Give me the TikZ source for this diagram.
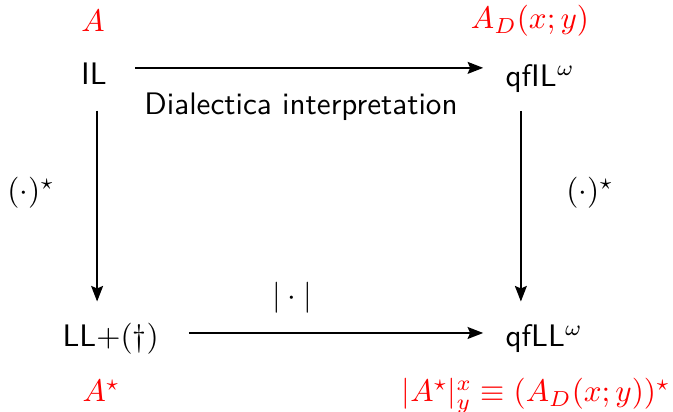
\documentclass[tikz,border=0pt]{standalone}
\usepackage{amsmath}
\usepackage{xcolor}
\usepackage{tikz}
\usetikzlibrary{arrows.meta}
\tikzset{>={Stealth[length=5pt,width=3.8pt,inset=0.8pt]}}

\begin{document}
\begin{tikzpicture}[x=0.3213pt,y=-0.3213pt,
  sys/.style={font=\sffamily,inner sep=0pt,text height=7pt,text depth=2pt},
  form/.style={text=red,inner sep=0pt},
  lab/.style={inner sep=0pt},
  map/.style={->,line width=0.7pt}]
\useasboundingbox (0,0) rectangle (673,412);

% ===== systems =====
\node[sys,anchor=base] (il) at (94,85) {IL};
\node[sys,anchor=base west] (qfil) at (505,87) {qfIL$^\omega$};
\node[sys,anchor=base west] (ll) at (62,347) {LL$+(\dagger)$};
\node[sys,anchor=base west] (qfll) at (505,347) {qfLL$^\omega$};

% ===== formulas =====
\node[form,anchor=base] (fA) at (93,32) {$A$};
\node[form,anchor=base] (fAD) at (530,29) {$A_D(x;y)$};
\node[form,anchor=base west] (fAs) at (82,402) {$A^\star$};
\node[form,anchor=base east] (fAy) at (671,402) {$|A^\star|^x_y\equiv(A_D(x;y))^\star$};

% ===== arrows =====
\draw[map,shorten <=9pt,shorten >=7pt] ([yshift=3pt]il.east) -- ([yshift=3pt]il.east -| qfil.west);
\draw[map,shorten <=9.5pt,shorten >=7pt] ([yshift=2pt]ll.east) -- ([yshift=2pt]ll.east -| qfll.west);
\draw[map,shorten <=6pt,shorten >=7.4pt] ([xshift=1pt]il.south) -- ([xshift=1pt]il.south |- ll.north);
\draw[map,shorten <=5.5pt,shorten >=7.4pt] ([xshift=5.1pt]qfil.south west) -- ([xshift=5.1pt]qfil.south west |- qfll.north);

% ===== labels =====
\node[lab,font=\sffamily,anchor=base] (dia) at (301,115) {Dialectica interpretation};
\node[lab] (abs) at (292,298) {$|\cdot|$};
\node[lab] (starl) at (31,193) {$(\cdot)^\star$};
\node[lab] (starr) at (590,193) {$(\cdot)^\star$};
\end{tikzpicture}
\end{document}
